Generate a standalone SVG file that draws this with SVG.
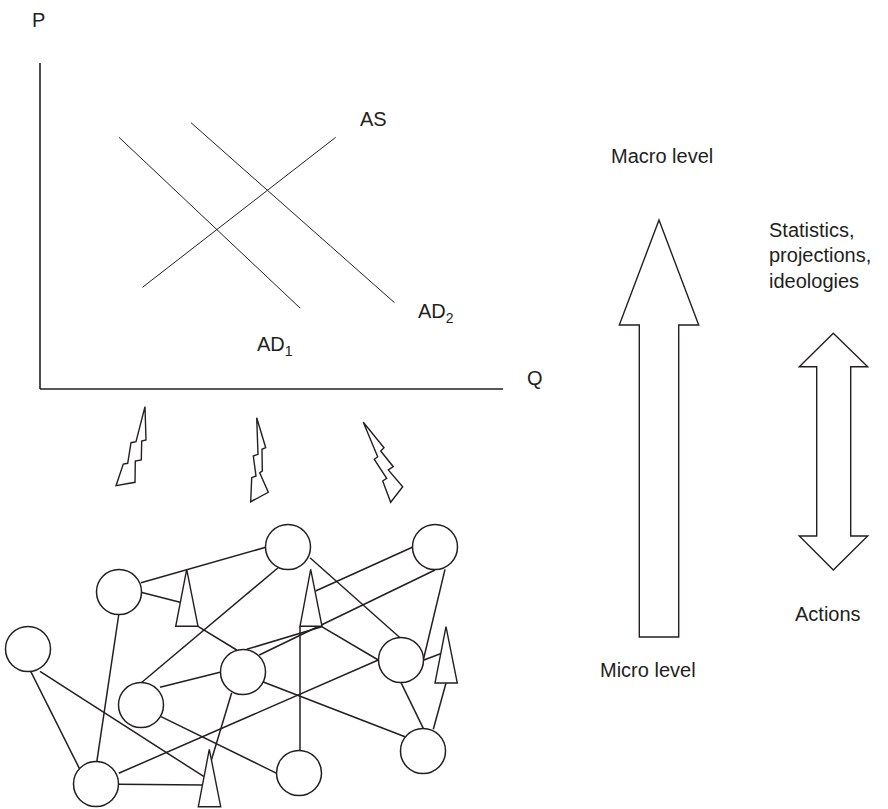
<svg xmlns="http://www.w3.org/2000/svg" width="888" height="809" viewBox="0 0 888 809">
<style>
text{font-family:"Liberation Sans",Arial,sans-serif;font-size:20px;fill:#231f20}
.sub{font-size:14px}
.ax{stroke:#231f20;stroke-width:1.6;fill:none}
.cv{stroke:#231f20;stroke-width:1;fill:none}
.ed{stroke:#231f20;stroke-width:1.5;fill:none}
.nd{stroke:#231f20;stroke-width:1.5;fill:#fff}
.sh{stroke:#231f20;stroke-width:1.4;fill:#fff;stroke-linejoin:miter}
</style>
<rect width="888" height="809" fill="#fff"/>
<g id="graph">
<line class="ax" x1="40" y1="63" x2="40" y2="389"/>
<line class="ax" x1="40" y1="389" x2="503" y2="389"/>
<line class="cv" x1="142.5" y1="287.3" x2="335.7" y2="137.3"/>
<line class="cv" x1="119" y1="137.3" x2="300.3" y2="308.3"/>
<line class="cv" x1="191" y1="122.7" x2="394.5" y2="302.7"/>
<text x="32" y="27">P</text>
<text x="527" y="385">Q</text>
<text x="360" y="126">AS</text>
<text x="418" y="318">AD<tspan class="sub" dy="5">2</tspan></text>
<text x="257" y="351">AD<tspan class="sub" dy="5">1</tspan></text>
</g>
<g id="bolts">
<polygon class="sh" points="145,406.7 146,440 141.7,441 141.3,460 135.3,461 135,482.3 116,485.7 123.3,464 127.7,463.3 131,442.7 136,441.7"/>
<polygon class="sh" points="256.7,417.7 265.7,447.7 262,449.3 262.3,471 259.7,472.7 268.3,492.3 250.7,501.7 251.7,477.7 256,476 253.3,456 258,454.3"/>
<polygon class="sh" points="363.3,422.3 384,447.7 380.7,451 393.3,466.7 388.3,470 402.7,486.7 390.7,502.3 382.7,481 386.7,478.3 374.3,459.3 377.7,456.7"/>
</g>
<g id="connectors">
<line class="ed" x1="141" y1="582.7" x2="265.7" y2="547.3"/>
<line class="ed" x1="141" y1="592.3" x2="180" y2="602.3"/>
<line class="ed" x1="198" y1="626.3" x2="236.7" y2="650"/>
<line class="ed" x1="118.7" y1="615" x2="96.7" y2="762.3"/>
<line class="ed" x1="30.7" y1="671.3" x2="79.3" y2="768.3"/>
<line class="ed" x1="40" y1="671.3" x2="204" y2="776.7"/>
<line class="ed" x1="118.7" y1="784.3" x2="202.5" y2="785"/>
<line class="ed" x1="118.7" y1="773.3" x2="378.3" y2="660"/>
<line class="ed" x1="141.3" y1="682.7" x2="279.3" y2="566.7"/>
<line class="ed" x1="160" y1="687.3" x2="220" y2="672.3"/>
<line class="ed" x1="161" y1="716.7" x2="276.7" y2="773.3"/>
<line class="ed" x1="231.7" y1="692.7" x2="211.4" y2="760"/>
<line class="ed" x1="259.3" y1="655" x2="435" y2="570"/>
<line class="ed" x1="246.7" y1="649.3" x2="321.7" y2="626.7"/>
<line class="ed" x1="321.7" y1="626.7" x2="378.3" y2="660"/>
<line class="ed" x1="263.3" y1="682" x2="405" y2="736.7"/>
<line class="ed" x1="315.5" y1="591" x2="412.3" y2="547.3"/>
<line class="ed" x1="310" y1="557.7" x2="400" y2="637.7"/>
<line class="ed" x1="300" y1="626.3" x2="300" y2="750.7"/>
<line class="ed" x1="445" y1="569.3" x2="423.3" y2="660"/>
<line class="ed" x1="401" y1="682.7" x2="423.3" y2="728.3"/>
<line class="ed" x1="433.3" y1="729.3" x2="446" y2="683"/>
<line class="ed" x1="423.3" y1="660.3" x2="441.7" y2="653.3"/>
</g>
<g id="nodes">
<g id="nA"><circle class="nd" cx="288" cy="547" r="22.5"/></g>
<g id="nB"><circle class="nd" cx="435" cy="547" r="22.5"/></g>
<g id="nC"><circle class="nd" cx="119" cy="592" r="22.5"/></g>
<g id="nD"><circle class="nd" cx="28" cy="649" r="22.5"/></g>
<g id="nE"><circle class="nd" cx="243" cy="672" r="22.5"/></g>
<g id="nF"><circle class="nd" cx="401" cy="660" r="22.5"/></g>
<g id="nG"><circle class="nd" cx="141" cy="705" r="22.5"/></g>
<g id="nH"><circle class="nd" cx="423" cy="751" r="22.5"/></g>
<g id="nI"><circle class="nd" cx="299" cy="773" r="22.5"/></g>
<g id="nJ"><circle class="nd" cx="96" cy="784" r="22.5"/></g>
<g id="t1"><polygon class="sh" points="186.7,569.3 175.7,626.3 198,626.3"/></g>
<g id="t2"><polygon class="sh" points="310.7,569.3 300,626.3 322,626.3"/></g>
<g id="t3"><polygon class="sh" points="446,626.7 435,683 457.3,683"/></g>
<g id="t4"><polygon class="sh" points="209.3,749.3 198.3,806.7 220.7,806.7"/></g>
</g>
<g id="levels">
<polygon class="sh" points="659,220 698.7,325 678.7,325 678.7,637 639.3,637 639.3,325 619.3,325"/>
<polygon class="sh" points="833.3,333.3 867.7,366.7 850.7,366.7 850.7,536 867.7,536 833.3,570 799.3,536 816.7,536 816.7,366.7 799.3,366.7"/>
<text x="611" y="163">Macro level</text>
<text x="600" y="677">Micro level</text>
<text x="769" y="237">Statistics,</text>
<text x="769" y="262">projections,</text>
<text x="769" y="288">ideologies</text>
<text x="795" y="621">Actions</text>
</g>
</svg>
